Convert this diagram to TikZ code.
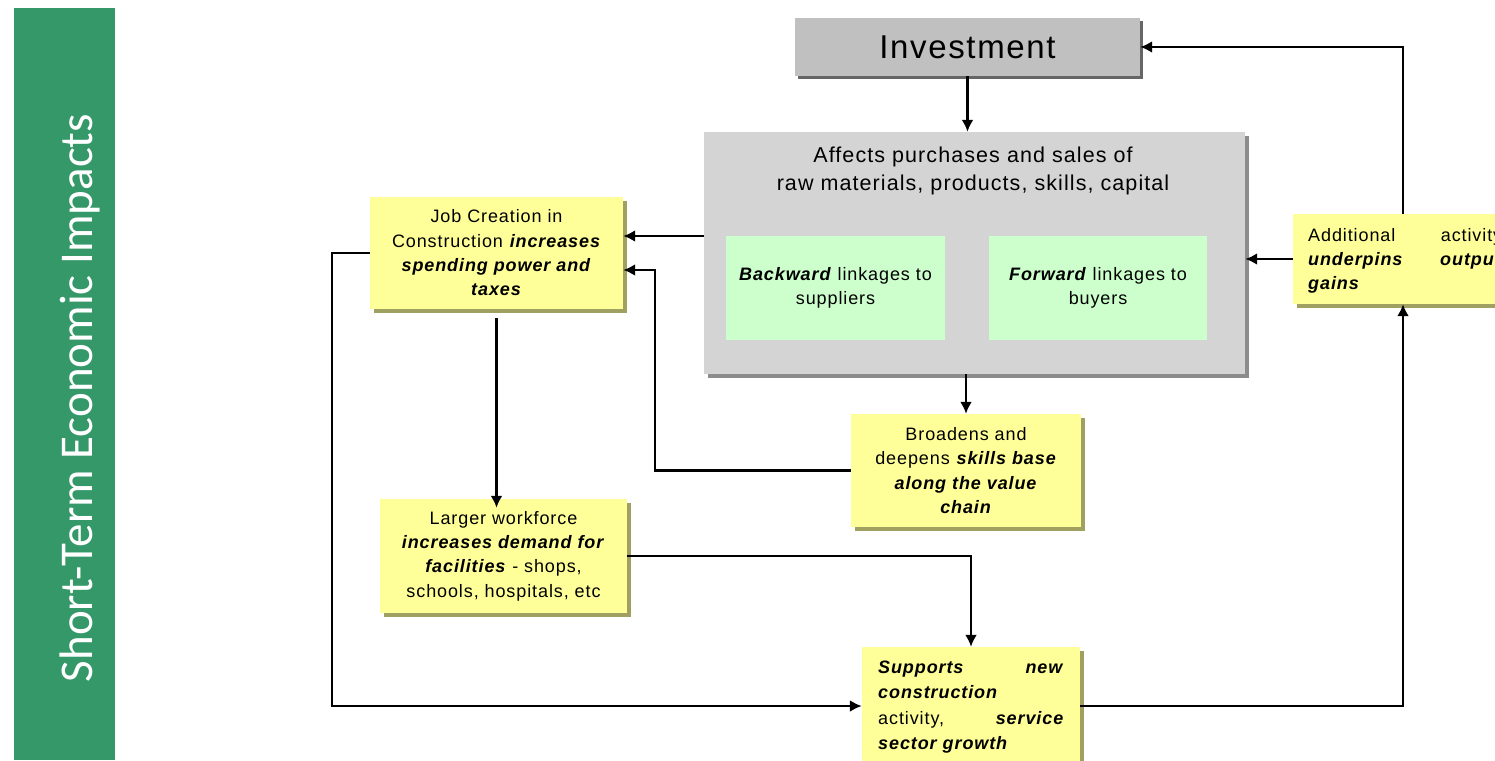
\documentclass[tikz,border=0pt]{standalone}
\usepackage{fontspec}
\setmainfont{Liberation Sans}
\newfontfamily\notefont{Liberation Sans}[LetterSpace=5]
\newfontfamily\bannerfont{Carlito}
\usetikzlibrary{arrows.meta,shadows}
\definecolor{bannergreen}{RGB}{52,152,104}
\definecolor{noteyellow}{RGB}{255,255,153}
\definecolor{noteshadow}{RGB}{160,160,96}
\definecolor{linkgreen}{RGB}{204,255,204}
\definecolor{panelgray}{RGB}{212,212,212}
\definecolor{invgray}{RGB}{192,192,192}
\newcommand{\bi}[1]{\textbf{\textit{#1}}}
\tikzset{
  note/.style={fill=noteyellow, draw=none, inner sep=0pt, align=center,
    font=\notefont\fontsize{18}{24.3}\selectfont,
    drop shadow={shadow xshift=4pt, shadow yshift=-4pt, fill=noteshadow, opacity=1}},
  linkbox/.style={fill=linkgreen, draw=none, inner sep=0pt, align=center,
    font=\notefont\fontsize{18}{24.3}\selectfont},
  arr/.style={line width=2.5pt, -{Latex[length=12pt,width=12pt]}}
}
\begin{document}
\begin{tikzpicture}[x=1pt,y=-1pt]
\clip (0,0) rectangle (1495,760);
\fill[white] (0,0) rectangle (1495,760);

% banner
\node[fill=bannergreen, minimum width=101pt, minimum height=752pt, inner sep=0pt, anchor=north west] (ban) at (14,8) {};
\node[rotate=90, text=white, font=\bannerfont\fontsize{47}{47}\selectfont, inner sep=0pt] (bant) at (80,398) {Short-Term Economic Impacts};

% investment
\node[fill=invgray, minimum width=345pt, minimum height=58pt, inner sep=0pt,
  font=\notefont\fontsize{33}{33}\selectfont,
  drop shadow={shadow xshift=3pt, shadow yshift=-3pt, fill=gray!80!black, opacity=1}] (inv) at (967.5,47) {Investment};

% big panel
\node[fill=panelgray, minimum width=541pt, minimum height=242pt, inner sep=0pt,
  drop shadow={shadow xshift=4pt, shadow yshift=-4pt, fill=gray!90, opacity=1}] (big) at (974.5,253) {};
\node[align=center, font=\notefont\fontsize{21.5}{28}\selectfont, inner sep=0pt] (bigt) at (973,171) {Affects purchases and sales of\\raw materials, products, skills, capital};
\node[linkbox, minimum width=219pt, minimum height=104pt] (back) at (835.5,288) {\bi{Backward} linkages to\\suppliers};
\node[linkbox, minimum width=218pt, minimum height=104pt] (fwd) at (1098,288) {\bi{Forward} linkages to\\buyers};

% yellow notes
\node[note, minimum width=253pt, minimum height=112pt] (job) at (496.5,253)
  {Job Creation in\\Construction \bi{increases}\\\bi{spending power and}\\\bi{taxes}};
\node[note, minimum width=247pt, minimum height=114pt] (lab) at (503.5,556)
  {Larger workforce\\\bi{increases demand for}\\\bi{facilities} - shops,\\schools, hospitals, etc};
\node[note, minimum width=230pt, minimum height=113pt] (skl) at (966,470.5)
  {Broadens and\\deepens \bi{skills base}\\\bi{along the value}\\\bi{chain}};
\node[note, minimum width=218pt, minimum height=118pt] (sup) at (971,706) {};
\node[align=left, text width=186pt, font=\notefont\fontsize{18}{25.2}\selectfont, inner sep=0pt, anchor=north west] (supt) at (878,661)
  {\bi{Supports}\hfill\bi{new}\\\bi{construction}\\activity,\hfill\bi{service}\\\bi{sector growth}};
\node[note, minimum width=226pt, minimum height=90pt] (add) at (1406,259) {};
\node[align=left, text width=194pt, font=\notefont\fontsize{18}{24.3}\selectfont, inner sep=0pt, anchor=north west] (addt) at (1308,228)
  {Additional\hfill activity\\\bi{underpins}\hfill\bi{output}\\\bi{gains}};

% connectors
\coordinate (k1) at (655,270);
\coordinate (c1) at (332,480);
\draw[arr] (inv.south) -- (inv.south |- big.north);
\draw[arr] ([yshift=17pt]big.west) -- ([yshift=17pt]job.east);
\draw[arr] (skl.west) -| (k1) -- ([yshift=-17pt]job.east);
\draw[arr] (job.west) -| (c1) |- (sup.west);
\draw[arr] ([yshift=-9pt]job.south) -- ([yshift=-9pt]job.south |- lab.north);
\draw[arr] (lab.east) -| (sup.north);
\draw[arr] (skl.north |- big.south) -- (skl.north);
\draw[arr] (sup.east) -| ([xshift=-3pt]add.south);
\draw[arr] ([xshift=-3pt]add.north) |- (inv.east);
\draw[arr] (add.west) -- (add.west -| big.east);
\end{tikzpicture}
\end{document}
